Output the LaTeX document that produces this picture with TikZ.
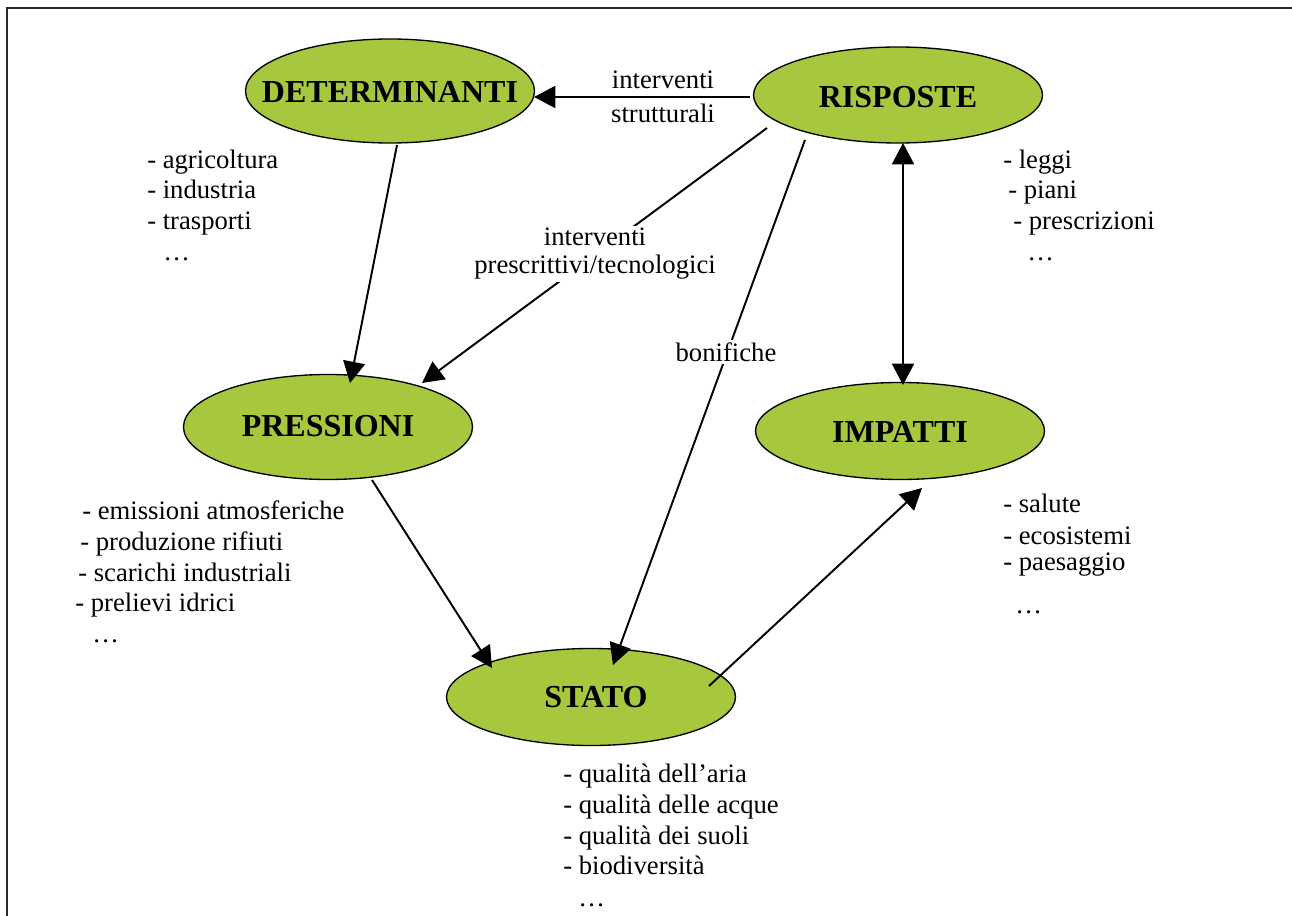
\documentclass[tikz,border=0pt]{standalone}
\usepackage{fontspec}
\setmainfont{Liberation Serif}
\usetikzlibrary{arrows.meta,calc,shapes.geometric}
\definecolor{blobgreen}{RGB}{167,199,62}
\definecolor{framegray}{RGB}{40,40,40}
\begin{document}
\begin{tikzpicture}[x=0.75pt,y=-0.75pt,
  blob/.style={ellipse, draw=black, line width=1pt, fill=blobgreen, inner sep=0pt, minimum width=216.75pt},
  title/.style={font=\fontsize{24}{28}\selectfont\bfseries, inner sep=0pt},
  item/.style={font=\fontsize{20}{23}\selectfont, inner sep=0pt, anchor=base west},
  elabel/.style={font=\fontsize{20}{21}\selectfont, inner sep=1.5pt, align=center},
  arr/.style={line width=1.45pt, -{Triangle[length=16pt,width=16.5pt]}},
  darr/.style={line width=1.45pt, {Triangle[length=16pt,width=16.5pt]}-{Triangle[length=16pt,width=16.5pt]}}]
\useasboundingbox (0,0) rectangle (1292,916);
\draw[framegray, line width=2.2pt] (7,916) -- (7,8) -- (1292,8);

% ellipses
\node[blob, minimum height=78pt]    (det) at (390,91)  {};
\node[blob, minimum height=72pt]    (ris) at (898,95)  {};
\node[blob, minimum height=78.75pt] (pre) at (328,427) {};
\node[blob, minimum height=72.75pt] (imp) at (900,431) {};
\node[blob, minimum height=72.75pt] (sta) at (591,697) {};

\node[title] (tdet) at ($(det)+(0,1)$) {DETERMINANTI};
\node[title] (tris) at ($(ris)+(0,2)$) {RISPOSTE};
\node[title] (tpre) at ($(pre)+(0,-1)$) {PRESSIONI};
\node[title] (timp) at ($(imp)+(0,1)$) {IMPATTI};
\node[title] (tsta) at ($(sta)+(5,0)$) {STATO};

% connectors
\draw[arr] ($(ris)+(-148,2)$) -- ($(det)+(144,6)$);
\draw[arr] ($(det)+(7,54)$) -- ($(pre)+(22,-44)$);
\draw[arr] ($(ris)+(-131,33)$) -- ($(pre)+(94,-44)$);
\draw[arr] ($(ris)+(-93,45)$) -- ($(sta)+(22,-32)$);
\draw[darr] ($(ris)+(5,48)$) -- ($(imp)+(3,-46)$);
\draw[arr] ($(pre)+(44,53)$) -- ($(sta)+(-99,-29)$);
\draw[arr] ($(sta)+(118,-11)$) -- ($(imp)+(22,57)$);

% connector labels
\node[elabel] (l1a) at (663,80) {interventi};
\node[elabel] (l1b) at (663,113) {strutturali};
\node[elabel, fill=white] (l2) at (595,254) {interventi\\prescrittivi/tecnologici};
\node[elabel, fill=white] (l3) at (726,352) {bonifiche};

% lists
\node[item] (d1) at (147,169) {- agricoltura};
\node[item] (d2) at (147,199) {- industria};
\node[item] (d3) at (147,230) {- trasporti};
\node[item] (d4) at (163,261) {…};

\node[item] (r1) at (1003,169) {- leggi};
\node[item] (r2) at (1008,199) {- piani};
\node[item] (r3) at (1013,230) {- prescrizioni};
\node[item] (r4) at (1027,261) {…};

\node[item] (p1) at (82,519) {- emissioni atmosferiche};
\node[item] (p2) at (80,550) {- produzione rifiuti};
\node[item] (p3) at (78,581) {- scarichi industriali};
\node[item] (p4) at (75,611) {- prelievi idrici};
\node[item] (p5) at (92,642) {…};

\node[item] (i1) at (1003,512) {- salute};
\node[item] (i2) at (1003,544) {- ecosistemi};
\node[item] (i3) at (1003,570) {- paesaggio};
\node[item] (i4) at (1015,613) {…};

\node[item] (s1) at (563,782) {- qualità dell’aria};
\node[item] (s2) at (563,813) {- qualità delle acque};
\node[item] (s3) at (563,844) {- qualità dei suoli};
\node[item] (s4) at (563,874) {- biodiversità};
\node[item] (s5) at (578,906) {…};
\end{tikzpicture}
\end{document}
